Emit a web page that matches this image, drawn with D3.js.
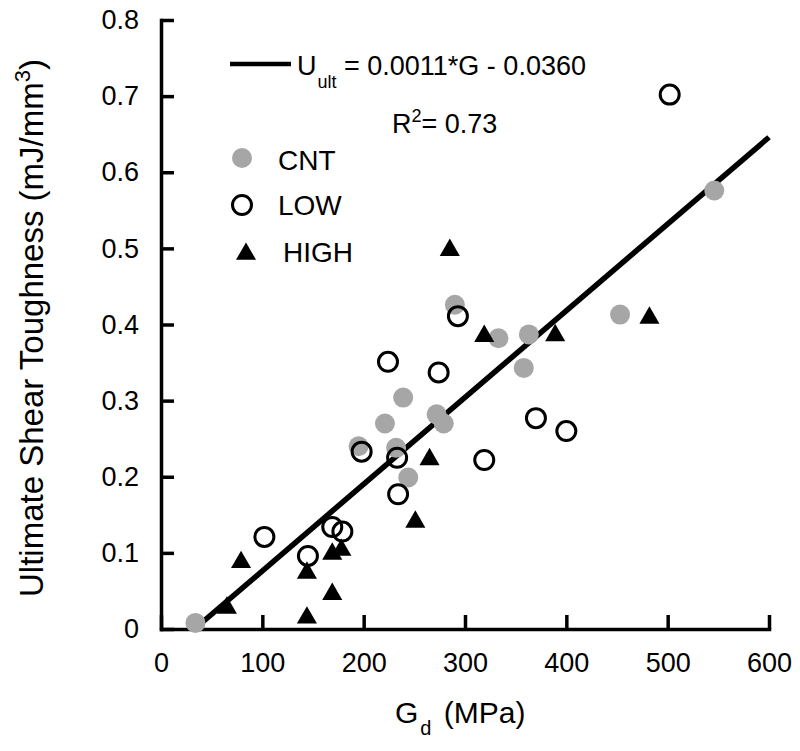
<!DOCTYPE html>
<html>
<head>
<meta charset="utf-8">
<script src="https://cdn.jsdelivr.net/npm/d3@7"></script>
<style>
  html, body { margin: 0; padding: 0; background: #fff; }
  svg { display: block; font-family: "Liberation Sans", Arial, sans-serif; }
</style>
</head>
<body>
<svg id="chart" width="800" height="751"></svg>
<script>
// ---- data ----
const cntX  = [34, 195, 221, 232, 239, 244, 272, 279, 290, 333, 358, 363, 453, 546];
const cntY  = [0.008, 0.240, 0.270, 0.238, 0.304, 0.199, 0.282, 0.270, 0.426, 0.382, 0.343, 0.387, 0.413, 0.576];
const lowX  = [102, 145, 169, 179, 198, 224, 233, 234, 274, 293, 319, 370, 400, 502];
const lowY  = [0.121, 0.096, 0.134, 0.128, 0.233, 0.351, 0.225, 0.177, 0.337, 0.411, 0.222, 0.277, 0.260, 0.702];
const highX = [65, 79, 144, 144, 169, 169, 178, 251, 265, 285, 319, 389, 482];
const highY = [0.029, 0.089, 0.075, 0.016, 0.047, 0.100, 0.105, 0.142, 0.224, 0.499, 0.386, 0.387, 0.410];
const fitX  = [33, 600];
const fitY  = [0, 0.646];
const xTicks = [0, 100, 200, 300, 400, 500, 600];
const yTicks = [0, 0.1, 0.2, 0.3, 0.4, 0.5, 0.6, 0.7, 0.8];
const yTickLabels = ["0", "0.1", "0.2", "0.3", "0.4", "0.5", "0.6", "0.7", "0.8"];
const legendNames = ["CNT", "LOW", "HIGH"];

// ---- chart ----
const svg = d3.select("#chart");
const x = d3.scaleLinear().domain([0, 600]).range([161, 769]);
const y = d3.scaleLinear().domain([0, 0.8]).range([629, 20]);
const gray = "#a6a6a6";
const FS = 27;

// axes
const xAxis = d3.axisBottom(x).tickValues(xTicks).tickSizeInner(-14).tickSizeOuter(0).tickPadding(24).tickFormat(d3.format("d"));
const yAxis = d3.axisLeft(y).tickValues(yTicks).tickSizeInner(-13).tickSizeOuter(0).tickPadding(22)
  .tickFormat((d, i) => yTickLabels[i]);

const gx = svg.append("g").attr("transform", `translate(0,${y(0)})`).call(xAxis);
const gy = svg.append("g").attr("transform", `translate(${x(0)},0)`).call(yAxis);
[gx, gy].forEach(g => {
  g.select(".domain").attr("stroke", "#000").attr("stroke-width", 3.5).attr("stroke-linecap", "square");
  g.selectAll(".tick line").attr("stroke", "#000").attr("stroke-width", 3.5);
  g.selectAll(".tick text").attr("fill", "#000").attr("font-size", FS).attr("font-family", "Liberation Sans, Arial, sans-serif");
});

// regression line
const line = d3.line().x(d => x(d[0])).y(d => y(d[1]));
svg.append("path").datum(d3.zip(fitX, fitY)).attr("d", line)
  .attr("stroke", "#000").attr("stroke-width", 5.5).attr("fill", "none");

// points
const cnt = d3.zip(cntX, cntY), low = d3.zip(lowX, lowY), high = d3.zip(highX, highY);
svg.append("g").selectAll("circle").data(cnt).join("circle")
  .attr("cx", d => x(d[0])).attr("cy", d => y(d[1])).attr("r", 10).attr("fill", gray);
const tri = d3.symbol().type(d3.symbolTriangle).size(175);
svg.append("g").selectAll("path").data(high).join("path")
  .attr("d", tri).attr("transform", d => `translate(${x(d[0])},${y(d[1]) + 1})`).attr("fill", "#000");
svg.append("g").selectAll("circle").data(low).join("circle")
  .attr("cx", d => x(d[0])).attr("cy", d => y(d[1])).attr("r", 9.5).attr("fill", "none")
  .attr("stroke", "#000").attr("stroke-width", 3);

// axis titles
const xt = svg.append("text").attr("x", 395).attr("y", 723).attr("text-anchor", "start")
  .attr("font-size", 30).attr("fill", "#000");
xt.append("tspan").text("G");
xt.append("tspan").attr("font-size", 20).attr("dy", 12).attr("dx", 2).text("d");
xt.append("tspan").attr("dy", -12).attr("dx", 4).text(" (MPa)");

const yt = svg.append("text").attr("transform", "translate(43,328) rotate(-90)").attr("text-anchor", "middle")
  .attr("font-size", 33).attr("fill", "#000");
yt.append("tspan").text("Ultimate Shear Toughness (mJ/mm");
yt.append("tspan").attr("font-size", 22).attr("dy", -13).text("3");
yt.append("tspan").attr("dy", 13).text(")");

// legend: fit equation
svg.append("line").attr("x1", 230).attr("x2", 291).attr("y1", 64).attr("y2", 64)
  .attr("stroke", "#000").attr("stroke-width", 4.5);
const eq = svg.append("text").attr("x", 297).attr("y", 75).attr("font-size", FS).attr("fill", "#000");
eq.append("tspan").text("U");
eq.append("tspan").attr("font-size", 18).attr("dy", 13).attr("dx", 1).text("ult");
eq.append("tspan").attr("dy", -13).text(" = 0.0011*G - 0.0360");
const r2 = svg.append("text").attr("x", 392).attr("y", 133).attr("font-size", FS).attr("fill", "#000");
r2.append("tspan").text("R");
r2.append("tspan").attr("font-size", 18).attr("dy", -11).text("2");
r2.append("tspan").attr("dy", 11).text("= 0.73");

// legend: markers
const lg = svg.append("g");
lg.append("circle").attr("cx", 242).attr("cy", 158).attr("r", 10).attr("fill", gray);
lg.append("circle").attr("cx", 242).attr("cy", 205).attr("r", 9.5).attr("fill", "none").attr("stroke", "#000").attr("stroke-width", 3);
lg.append("path").attr("d", tri).attr("transform", "translate(246,254)").attr("fill", "#000");
const ly = [170, 215, 262], lx = [278, 278, 283];
legendNames.forEach((n, i) => {
  lg.append("text").attr("x", lx[i]).attr("y", ly[i]).attr("font-size", 28).attr("fill", "#000").text(n);
});
</script>
</body>
</html>
